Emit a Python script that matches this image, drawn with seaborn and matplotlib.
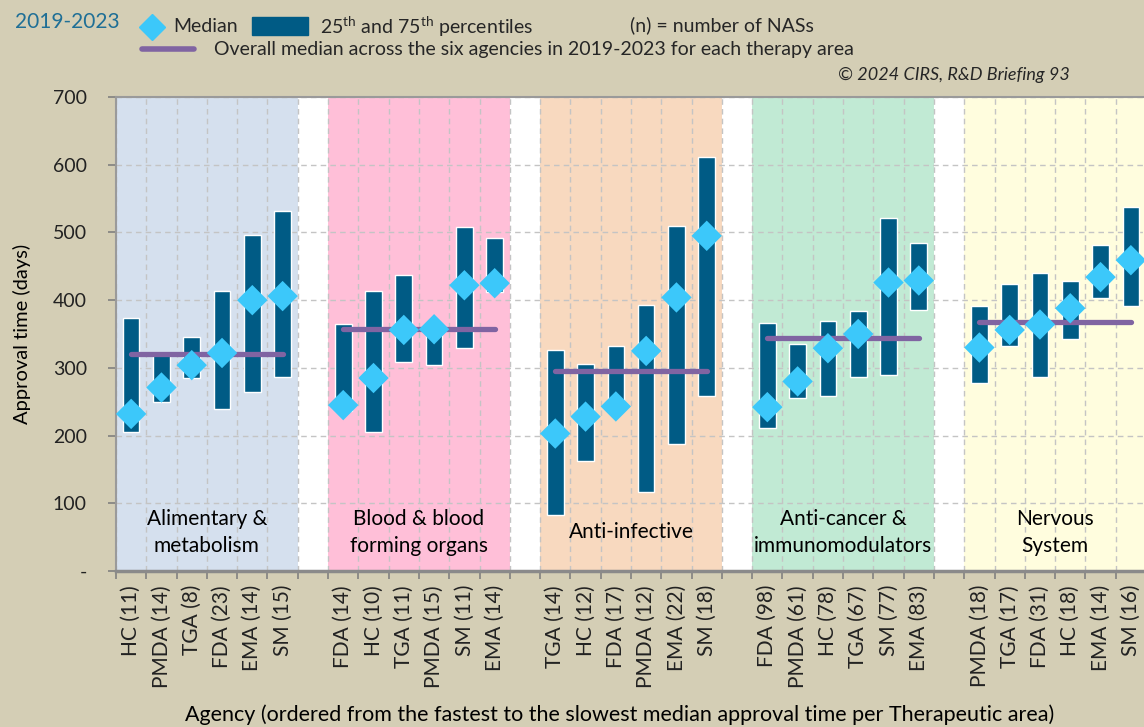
import numpy as np
import pandas as pd
import seaborn as sns
import matplotlib.pyplot as plt
from matplotlib.lines import Line2D
from matplotlib.patches import Rectangle
from matplotlib.ticker import FixedLocator, FuncFormatter

AREAS = ["Alimentary &\nmetabolism", "Blood & blood\nforming organs", "Anti-infective",
         "Anti-cancer &\nimmunomodulators", "Nervous\nSystem"]
AREA_COLORS = ["#D5E0EE", "#FFBFD8", "#F8D9BF", "#C1EAD4", "#FFFDDE"]

AGENCIES = [
    ["HC (11)", "PMDA (14)", "TGA (8)", "FDA (23)", "EMA (14)", "SM (15)"],
    ["FDA (14)", "HC (10)", "TGA (11)", "PMDA (15)", "SM (11)", "EMA (14)"],
    ["TGA (14)", "HC (12)", "FDA (17)", "PMDA (12)", "EMA (22)", "SM (18)"],
    ["FDA (98)", "PMDA (61)", "HC (78)", "TGA (67)", "SM (77)", "EMA (83)"],
    ["PMDA (18)", "TGA (17)", "FDA (31)", "HC (18)", "EMA (14)", "SM (16)"],
]
Q1 = [[206, 250, 285, 239, 264, 286],
      [237, 206, 308, 304, 330, 412],
      [83, 163, 240, 116, 188, 258],
      [211, 255, 258, 287, 290, 386],
      [278, 333, 287, 342, 403, 391]]
MEDIAN = [[232, 271, 304, 322, 400, 406],
          [245, 285, 356, 357, 422, 425],
          [203, 228, 243, 325, 404, 495],
          [242, 280, 329, 350, 426, 429],
          [330, 356, 364, 388, 434, 459]]
Q3 = [[373, 322, 346, 413, 496, 531],
      [365, 413, 437, 362, 508, 492],
      [326, 305, 332, 393, 510, 611],
      [366, 335, 369, 384, 522, 484],
      [391, 424, 440, 429, 481, 537]]
OVERALL = [321, 357, 295, 344, 367]

BAR_COLOR = "#005B85"
DIAMOND_COLOR = "#3CC8FA"
LINE_COLOR = "#8064A2"
BG = "#D4CEB5"
TEAL = "#1F6F96"

sns.set_theme(style="white")
plt.rcParams["font.family"] = ["Lato", "DejaVu Sans"]
plt.rcParams["mathtext.fontset"] = "custom"
plt.rcParams["mathtext.rm"] = "Lato"

# one slot per agency, one empty slot between therapy areas
rows = []
for g, area in enumerate(AREAS):
    for i, ag in enumerate(AGENCIES[g]):
        rows.append(dict(area=area, agency=ag, pos=g * 7 + i,
                         q1=Q1[g][i], median=MEDIAN[g][i], q3=Q3[g][i],
                         overall=OVERALL[g]))
df = pd.DataFrame(rows)
n_slots = 7 * len(AREAS) - 1

fig = plt.figure(figsize=(11.44, 7.27), dpi=100, facecolor=BG)
ax = fig.add_axes([116 / 1144, 156 / 727, 1030 / 1144, 474 / 727])
ax.set_facecolor("white")

for g, color in enumerate(AREA_COLORS):
    ax.axvspan(g * 7 - 0.5, g * 7 + 5.5, color=color, zorder=0.2, lw=0)

ax.bar(df["pos"], df["q3"] - df["q1"], bottom=df["q1"], width=0.55,
       color=BAR_COLOR, zorder=2)

line_df = df.groupby("area", sort=False).agg(start=("pos", "min"), end=("pos", "max"),
                                             overall=("overall", "first")).reset_index()
line_long = line_df.melt(id_vars=["area", "overall"], value_vars=["start", "end"], value_name="pos")
sns.lineplot(data=line_long, x="pos", y="overall", units="area", estimator=None,
             color=LINE_COLOR, lw=3.8, solid_capstyle="round", ax=ax, zorder=3, legend=False)

sns.scatterplot(data=df, x="pos", y="median", marker="D", s=240, color=DIAMOND_COLOR,
                edgecolor="none", ax=ax, zorder=4, legend=False)

for g, area in enumerate(AREAS):
    ax.text(g * 7 + 2.5, 57, area, ha="center", va="center", fontsize=15,
            linespacing=1.45, color="black", zorder=5)

ax.set_xlim(-0.5, n_slots - 0.5)
ax.set_ylim(0, 700)
ax.set_xticks(df["pos"])
ax.set_xticklabels(df["agency"], rotation=90, fontsize=15, color="#222222")
ax.xaxis.set_minor_locator(FixedLocator(np.arange(-0.5, n_slots, 1)))
ax.tick_params(axis="x", which="major", length=0, pad=10)
ax.tick_params(axis="x", which="minor", length=6, width=1.2, color="#808080", bottom=True)
ax.set_yticks(range(0, 701, 100))
ax.yaxis.set_major_formatter(FuncFormatter(lambda v, p: "-" if v == 0 else f"{int(v)}"))
ax.tick_params(axis="y", length=6, width=1.2, color="#808080", labelsize=14,
               labelcolor="#222222", left=True, pad=15)

ax.set_axisbelow(True)
ax.grid(which="major", axis="y", color="#C4C4C4", ls=(0, (4, 3)), lw=1)
ax.grid(which="minor", axis="x", color="#C4C4C4", ls=(0, (4, 3)), lw=1)
ax.grid(which="major", axis="x", visible=False)

for side in ["left", "top"]:
    ax.spines[side].set_color("#9A9A9A")
    ax.spines[side].set_linewidth(1.5)
ax.spines["bottom"].set_color("#8A8A8A")
ax.spines["bottom"].set_linewidth(2.5)
ax.spines["right"].set_visible(False)

ax.set_xlabel("Agency (ordered from the fastest to the slowest median approval time per Therapeutic area)",
              fontsize=15.5, color="black")
ax.xaxis.set_label_coords((620 - 116) / 1030, -(715 - 571) / 474)
ax.xaxis.label.set_va("center")
ax.set_ylabel("Approval time (days)", fontsize=14.5, color="black")
ax.yaxis.set_label_coords(-(116 - 22) / 1030, 0.5)
ax.yaxis.label.set_va("center")

# header and legend
fig.text(15 / 1144, 1 - 22 / 727, "2019-2023", fontsize=15, color=TEAL, va="center")
fig.add_artist(Line2D([152 / 1144], [1 - 27 / 727], marker="D", ms=13, color=DIAMOND_COLOR,
                      transform=fig.transFigure))
fig.text(173 / 1144, 1 - 27 / 727, "Median", fontsize=14, va="center")
fig.add_artist(Rectangle((252 / 1144, 1 - 35 / 727), 56 / 1144, 18 / 727, color=BAR_COLOR,
                         transform=fig.transFigure))
fig.text(320 / 1144, 1 - 27 / 727, r"25$^{\rm th}$ and 75$^{\rm th}$ percentiles", fontsize=14, va="center")
fig.text(630 / 1144, 1 - 25 / 727, "(n) = number of NASs", fontsize=14, va="center")
fig.add_artist(Line2D([142 / 1144, 194 / 1144], [1 - 49 / 727, 1 - 49 / 727], lw=4,
                      color=LINE_COLOR, transform=fig.transFigure))
fig.text(214 / 1144, 1 - 49 / 727,
         "Overall median across the six agencies in 2019-2023 for each therapy area",
         fontsize=14, va="center")
fig.text(1070 / 1144, 1 - 75 / 727, "© 2024 CIRS, R&D Briefing 93", fontsize=13,
         style="italic", ha="right", va="center")

fig.savefig("out.png", dpi=100, facecolor=BG)
